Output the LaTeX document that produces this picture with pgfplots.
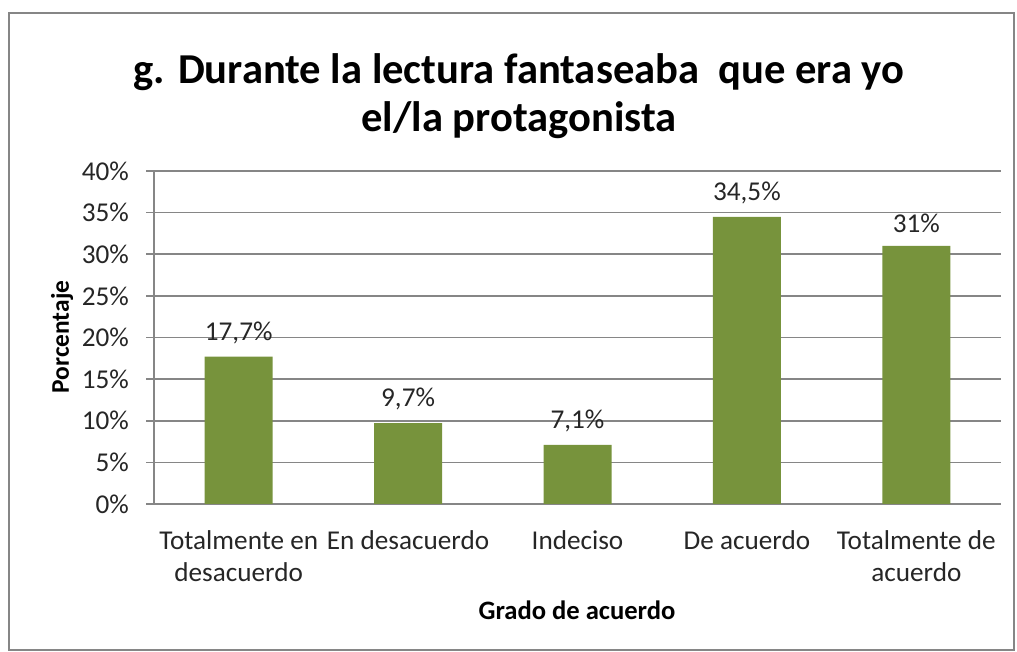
\documentclass[border=0pt]{standalone}
\usepackage{fontspec}
\setmainfont{Carlito}
\usepackage{pgfplots}
\pgfplotsset{compat=1.18}
\definecolor{barolive}{HTML}{77933C}
\definecolor{gridgray}{HTML}{868686}
\definecolor{labelink}{HTML}{262626}

\begin{document}
\begin{tikzpicture}
\useasboundingbox (0pt,0pt) rectangle (508.5pt,326pt);
\draw[gridgray, line width=1pt] (4.5pt,1pt) rectangle (507pt,319.5pt);
\begin{axis}[
  at={(77pt,74pt)}, anchor=south west,
  scale only axis, width=423.5pt, height=166.5pt,
  xmin=-0.5, xmax=4.5, ymin=0, ymax=40,
  ybar, bar width=34pt,
  axis x line*=bottom, axis y line*=left,
  axis line style={gridgray, line width=0.8pt},
  xtick={0,...,4},
  xticklabels={{Totalmente en\\desacuerdo},{En desacuerdo},{Indeciso},{De acuerdo},{Totalmente de\\acuerdo}},
  xtick style={draw=none},
  minor xtick={-0.5,0.5,...,4.5},
  minor tick length=4pt,
  minor tick style={gridgray, line width=0.8pt},
  ytick={0,5,...,40},
  yticklabel={\pgfmathprintnumber{\tick}\%},
  ytick style={gridgray, line width=0.8pt},
  major tick length=4pt,
  tick align=outside,
  ymajorgrids, grid style={gridgray, line width=0.8pt},
  /pgf/number format/assume math mode=true,
  ticklabel style={font=\fontsize{13.6}{16}\selectfont, text=labelink},
  xticklabel style={align=center, yshift=-6pt},
  yticklabel style={xshift=-5pt},
  point meta=explicit symbolic,
  nodes near coords,
  nodes near coords style={font=\fontsize{13.6}{16}\selectfont, text=labelink, yshift=3pt},
]
\addplot[fill=barolive, draw=none] coordinates {
  (0,17.7) [17,7\%]
  (1,9.7)  [9,7\%]
  (2,7.1)  [7,1\%]
  (3,34.5) [34,5\%]
  (4,31)   [31\%]
};
\end{axis}
\node[font=\bfseries\fontsize{21.3}{24}\selectfont, align=center] at (259.5pt,278pt)
  {g. Durante la lectura fantaseaba\ \ que era yo\\el/la protagonista};
\node[font=\bfseries\fontsize{12.7}{14}\selectfont, rotate=90] at (31pt,157.5pt) {Porcentaje};
\node[font=\bfseries\fontsize{13.3}{15}\selectfont] at (288.5pt,21pt) {Grado de acuerdo};
\end{tikzpicture}
\end{document}
